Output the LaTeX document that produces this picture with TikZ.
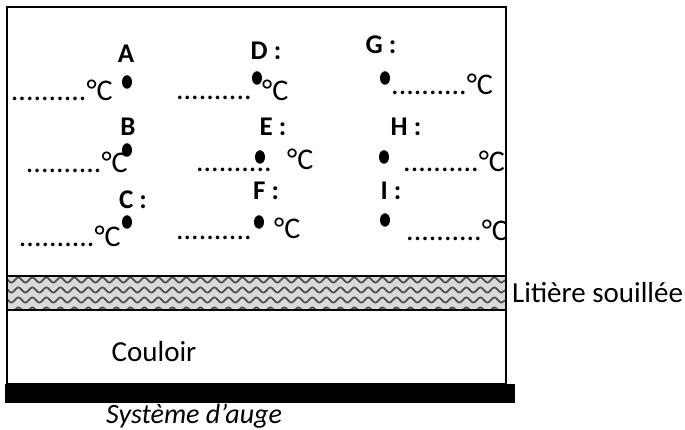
\documentclass[tikz,border=0pt]{standalone}
\usepackage{fontspec}
\setmainfont{Carlito}
\usetikzlibrary{decorations.pathmorphing, shapes.geometric}

\begin{document}
\begin{tikzpicture}[
  x=1pt, y=-1pt,
  font=\fontsize{29}{32}\selectfont,
  probe/.style={fill=black, ellipse, minimum width=10pt, minimum height=13.5pt, inner sep=0pt},
  letter/.style={font=\fontsize{27}{30}\selectfont\bfseries, anchor=base},
  reading/.style={inner sep=0pt, font=\fontsize{30}{32}\selectfont},
  wave/.style={draw=black!70, line width=1.7pt,
               decorate, decoration={snake, segment length=14pt, amplitude=2.6pt}}
]
  \useasboundingbox (0,0) rectangle (685,430);

  % room outline, litter band and trough
  \draw[line width=1.3pt] (7,7) rectangle (506,384);
  \fill[black!15] (7,276) rectangle (506,310);
  \begin{scope}
    \clip (7,276) rectangle (506,310);
    \foreach \y in {280,290,300,310}
      \draw[wave] (0,\y) -- (510,\y);
  \end{scope}
  \draw[line width=1.3pt] (7,276) rectangle (506,310);
  \fill[black] (5,384) rectangle (515,403);

  \node[anchor=west, inner sep=0pt] (litiere) at (512,293) {Litière souillée};
  \node[anchor=base, inner sep=0pt] (couloir) at (154,361) {Couloir};
  \node[anchor=base west, inner sep=0pt, font=\fontsize{28}{30}\selectfont\itshape]
    (auge) at (106,423) {Système d’auge};

  % first column
  \node[probe] (pA) at (127,82) {};
  \node[letter] (lA) at (126,63) {A};
  \node[reading, anchor=base east] (rA) at (113,101) {..........°C};
  \node[probe] (pB) at (127,150) {};
  \node[letter] (lB) at (128,136) {B};
  \node[reading, anchor=base east] (rB) at (128,173) {..........°C};
  \node[probe] (pC) at (127,222) {};
  \node[letter] (lC) at (133,209) {C :};
  \node[reading, anchor=base east] (rC) at (121,247) {..........°C};

  % second column
  \node[probe] (pD) at (257,78) {};
  \node[letter] (lD) at (266,60) {D :};
  \node[reading, anchor=base east] (dD) at (252,100) {..........};
  \node[reading, anchor=base west] (rD) at (262,101) {°C};
  \node[probe] (pE) at (260,157) {};
  \node[letter] (lE) at (273,136) {E :};
  \node[reading, anchor=base east] (dE) at (272,172) {..........};
  \node[reading, anchor=base west] (rE) at (287,170) {°C};
  \node[probe] (pF) at (259,222) {};
  \node[letter] (lF) at (266,200) {F :};
  \node[reading, anchor=base east] (dF) at (252,240) {..........};
  \node[reading, anchor=base west] (rF) at (274,239) {°C};

  % third column
  \node[probe] (pG) at (385,78) {};
  \node[letter] (lG) at (381,54) {G :};
  \node[reading, anchor=base west] (rG) at (391,95) {..........°C};
  \node[probe] (pH) at (384,157) {};
  \node[letter] (lH) at (406,136) {H :};
  \node[reading, anchor=base west] (rH) at (403,172) {..........°C};
  \node[probe] (pI) at (385,220) {};
  \node[letter] (lI) at (391,200) {I :};
  \node[reading, anchor=base west] (rI) at (406,241) {..........°C};
\end{tikzpicture}
\end{document}
